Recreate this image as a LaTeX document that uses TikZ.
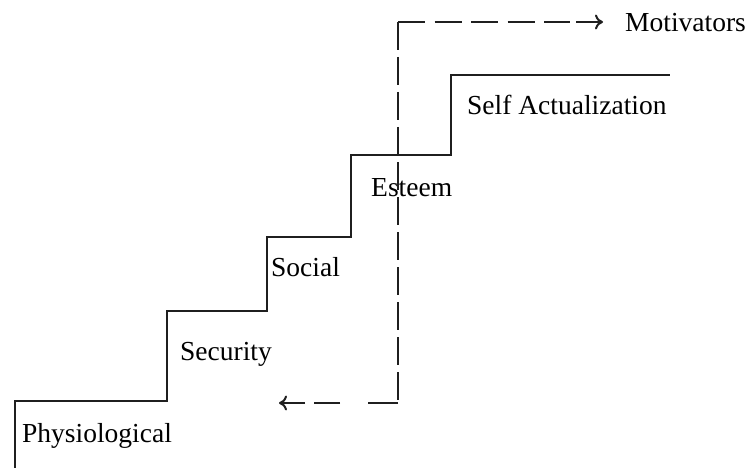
\documentclass[tikz,border=0pt]{standalone}
\usepackage{fontspec}
\setmainfont{Liberation Serif}
\usetikzlibrary{arrows.meta,calc}
\begin{document}
\begin{tikzpicture}[x=1pt,y=-1pt,
  lbl/.style={anchor=base west,inner sep=0pt,font=\fontsize{27.5}{32}\selectfont,text=black},
  ink/.style={line width=2.8pt,draw=black!88},
  stair/.style={ink},
  vdash/.style={ink,dash pattern=on 28pt off 7pt},
  tdash/.style={ink,dash pattern=on 27pt off 9.5pt},
  bdash/.style={ink,dash pattern=on 30pt off 28pt on 26pt off 100pt},
  tip/.style={ink,line width=2pt,-{To[length=8pt,width=15pt,line width=2pt]}}]
\useasboundingbox (0,0) rectangle (749,468);
\draw[stair] (15,468) -- (15,401) -- (167,401) -- (167,311) -- (267,311) -- (267,237) -- (351,237) -- (351,155) -- (451,155) -- (451,75) -- (670,75);
\node[lbl] (phys) at (22,442) {Physiological};
\node[lbl] (sec) at (180,360) {Security};
\node[lbl] (soc) at (271,276) {Social};
\node[lbl] (est) at (371,196) {Esteem};
\node[lbl] (self) at (467,115) {Self Actualization};
\node[lbl] (mot) at (625,32) {Motivators};
\coordinate (tl) at (398,22);
\coordinate (br) at (398,403);
\coordinate (ra) at (603,22);
\coordinate (la) at (279,403);
\draw[tdash] (tl) -- ($(ra)+(-33,0)$);
\draw[vdash] (tl) -- (br);
\draw[bdash] (br) -- ($(la)+(26,0)$);
\draw[tip] ($(ra)+(-27,0)$) -- (ra);
\draw[tip] ($(la)+(26,0)$) -- (la);
\end{tikzpicture}
\end{document}
